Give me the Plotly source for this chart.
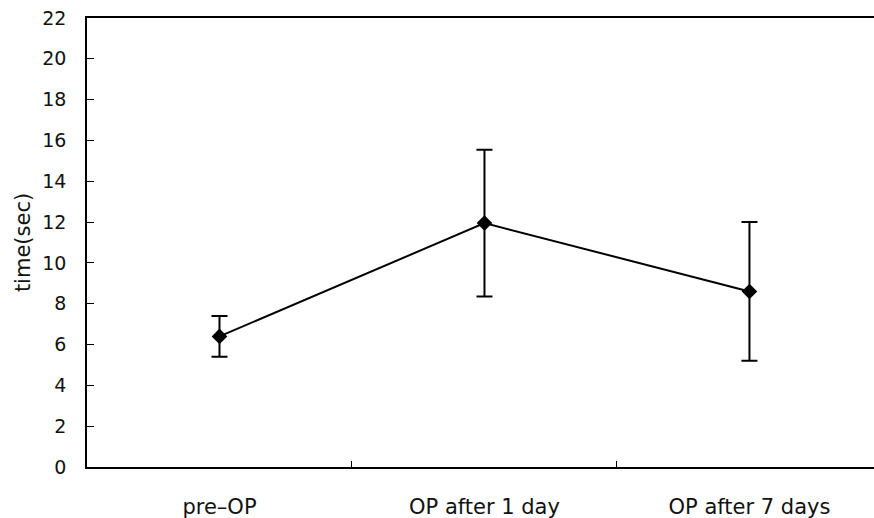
import plotly.graph_objects as go

categories = ["pre\u2013OP", "OP after 1 day", "OP after 7 days"]
means = [6.4, 11.95, 8.6]
errors = [1.0, 3.6, 3.4]
y_ticks = list(range(0, 23, 2))

FONT = "DejaVu Sans"

fig = go.Figure()
fig.add_trace(go.Scatter(
    x=categories, y=means,
    mode="lines+markers",
    line=dict(color="black", width=2),
    marker=dict(symbol="diamond", size=12, color="black"),
    error_y=dict(type="data", array=errors, visible=True,
                 color="black", thickness=2, width=8),
    showlegend=False,
))

fig.update_layout(
    width=874, height=518,
    margin=dict(l=87, r=0, t=18, b=51),
    paper_bgcolor="white", plot_bgcolor="white",
    font=dict(family=FONT, size=19, color="black"),
    xaxis=dict(
        type="category", range=[-0.5, 2.47],
        showline=True, linecolor="black", linewidth=1.5,
        mirror=True,
        ticks="inside", tickson="boundaries", ticklen=6, tickcolor="black",
        showgrid=False, zeroline=False,
        ticklabelstandoff=20,
        tickfont=dict(family=FONT, size=21, color="#111"),
    ),
    yaxis=dict(
        range=[0, 22], tickvals=y_ticks,
        showline=True, linecolor="black", linewidth=1.5, mirror=False,
        ticks="inside", ticklen=7, tickcolor="black",
        showgrid=False, zeroline=False,
        ticklabelstandoff=15,
        tickfont=dict(family=FONT, size=19, color="#111"),
        title=dict(text="time(sec)", font=dict(family=FONT, size=21, color="#111"), standoff=6),
    ),
)

fig.write_html("out.html")
